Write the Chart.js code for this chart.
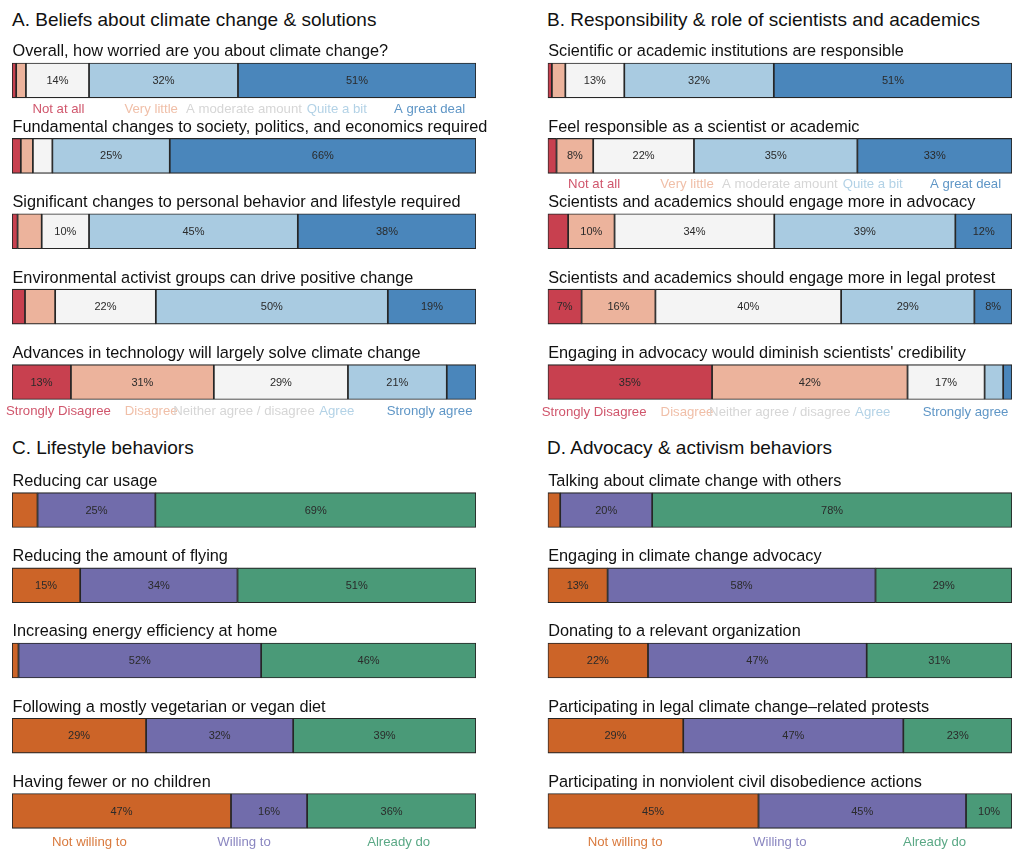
<!DOCTYPE html>
<html><head><meta charset="utf-8">
<script src="https://cdn.jsdelivr.net/npm/chart.js@4"></script>
<style>
body{margin:0;background:#fff;width:1024px;height:855px;position:relative;overflow:hidden;font-family:"Liberation Sans",Arial,Helvetica,sans-serif}
.h{position:absolute;font-size:19px;line-height:22px;color:#111;white-space:nowrap}
canvas{position:absolute}
</style></head><body>
<div class="h" style="left:12px;top:9px">A. Beliefs about climate change &amp; solutions</div>
<div class="h" style="left:547px;top:9px">B. Responsibility &amp; role of scientists and academics</div>
<div class="h" style="left:12px;top:437px">C. Lifestyle behaviors</div>
<div class="h" style="left:547px;top:437px">D. Advocacy &amp; activism behaviors</div>
<canvas id="cA" width="512" height="430" style="left:0;top:0"></canvas>
<canvas id="cB" width="512" height="430" style="left:512px;top:0"></canvas>
<canvas id="cC" width="512" height="425" style="left:0;top:430px"></canvas>
<canvas id="cD" width="512" height="425" style="left:512px;top:430px"></canvas>
<script>
// ---- categories / legend labels ----
const worryLabels = ['Not at all','Very little','A moderate amount','Quite a bit','A great deal'];
const agreeLabels = ['Strongly Disagree','Disagree','Neither agree / disagree','Agree','Strongly agree'];
const willLabels = ['Not willing to','Willing to','Already do'];

// ---- Panel A ----
const questionsA = [
  'Overall, how worried are you about climate change?',
  'Fundamental changes to society, politics, and economics required',
  'Significant changes to personal behavior and lifestyle required',
  'Environmental activist groups can drive positive change',
  'Advances in technology will largely solve climate change'
];
const valuesA = [
  [0.9, 2.1, 13.6, 32.1, 51.3],
  [1.9, 2.6, 4.2, 25.3, 66.0],
  [1.2, 5.2, 10.2, 45.0, 38.4],
  [2.8, 6.5, 21.7, 50.0, 19.0],
  [12.7, 30.8, 28.9, 21.3, 6.3]
];
// ---- Panel B ----
const questionsB = [
  'Scientific or academic institutions are responsible',
  'Feel responsible as a scientist or academic',
  'Scientists and academics should engage more in advocacy',
  'Scientists and academics should engage more in legal protest',
  "Engaging in advocacy would diminish scientists' credibility"
];
const valuesB = [
  [0.9, 2.9, 12.7, 32.2, 51.3],
  [1.9, 7.9, 21.7, 35.2, 33.3],
  [4.4, 10.0, 34.4, 39.0, 12.2],
  [7.3, 15.9, 40.0, 28.7, 8.1],
  [35.4, 42.1, 16.6, 4.0, 1.9]
];
// ---- Panel C ----
const questionsC = [
  'Reducing car usage',
  'Reducing the amount of flying',
  'Increasing energy efficiency at home',
  'Following a mostly vegetarian or vegan diet',
  'Having fewer or no children'
];
const valuesC = [
  [5.5, 25.4, 69.1],
  [14.7, 33.9, 51.4],
  [1.4, 52.3, 46.3],
  [28.9, 31.7, 39.4],
  [47.2, 16.4, 36.4]
];
// ---- Panel D ----
const questionsD = [
  'Talking about climate change with others',
  'Engaging in climate change advocacy',
  'Donating to a relevant organization',
  'Participating in legal climate change\u2013related protests',
  'Participating in nonviolent civil disobedience actions'
];
const valuesD = [
  [2.7, 19.8, 77.5],
  [12.9, 57.7, 29.4],
  [21.6, 47.1, 31.3],
  [29.2, 47.4, 23.4],
  [45.4, 44.7, 9.9]
];

const divColors = ['#c8404f','#ecb39c','#f4f4f4','#a9cbe1','#4a86bb'];
const divText = ['#d0566c','#f0bfa8','#d6d6d6','#b3d2e6','#5f96c6'];
const willColors = ['#cc6428','#716cab','#4a9a78'];
const willText = ['#d97a3e','#8a86c0','#5aa885'];

const FONT = '"Liberation Sans", Arial, Helvetica, sans-serif';

function makePanel(id, questions, values, colors, textColors, legends, pad) {
  const nCat = colors.length;
  const datasets = [];
  for (let k = 0; k < nCat; k++) {
    datasets.push({
      data: values.map(r => r[k]),
      backgroundColor: colors[k],
      borderColor: '#262626',
      borderWidth: 1.2,
      borderSkipped: false,
      barThickness: 35
    });
  }
  const textPlugin = {
    id: 'txt',
    afterDatasetsDraw(chart) {
      const ctx = chart.ctx;
      const ys = chart.scales.y, xs = chart.scales.x;
      ctx.save();
      // question titles
      ctx.font = '16.3px ' + FONT;
      ctx.fillStyle = '#111';
      ctx.textAlign = 'left';
      ctx.textBaseline = 'middle';
      questions.forEach((q, i) => {
        const top = ys.getPixelForValue(i) - 17.5;
        ctx.fillText(q, chart.chartArea.left + 0.5, top - 11);
      });
      // percent labels
      ctx.font = '11px ' + FONT;
      ctx.fillStyle = '#2a2a2a';
      ctx.textAlign = 'center';
      chart.data.datasets.forEach((ds, k) => {
        const meta = chart.getDatasetMeta(k);
        meta.data.forEach((el, i) => {
          const v = ds.data[i];
          if (v >= 7) {
            const cx = (el.x + el.base) / 2;
            ctx.fillText(Math.round(v) + '%', cx, el.y + 0.5);
          }
        });
      });
      // category legends under selected bars
      ctx.font = '13.2px ' + FONT;
      legends.forEach(lg => {
        const bottom = ys.getPixelForValue(lg.after) + 17.5;
        lg.labels.forEach((t, k) => {
          const pos = (100 / lg.labels.length) * (k + 0.5);
          ctx.fillStyle = textColors[k];
          ctx.fillText(t, xs.getPixelForValue(pos), bottom + lg.off);
        });
      });
      ctx.restore();
    }
  };
  return new Chart(document.getElementById(id), {
    type: 'bar',
    data: { labels: questions, datasets },
    options: {
      indexAxis: 'y',
      responsive: false,
      animation: false,
      layout: { padding: pad },
      plugins: { legend: { display: false }, tooltip: { enabled: false }, title: { display: false } },
      scales: {
        x: { stacked: true, min: 0, max: 100, display: false },
        y: { stacked: true, display: false }
      }
    },
    plugins: [textPlugin]
  });
}

makePanel('cA', questionsA, valuesA, divColors, divText,
  [{after: 0, labels: worryLabels, off: 11}, {after: 4, labels: agreeLabels, off: 12}],
  {left: 12, right: 36, top: 42.8, bottom: 10.3});
makePanel('cB', questionsB, valuesB, divColors, divText,
  [{after: 1, labels: worryLabels, off: 11}, {after: 4, labels: agreeLabels, off: 13}],
  {left: 35.7, right: 12, top: 42.8, bottom: 10.3});
makePanel('cC', questionsC, valuesC, willColors, willText,
  [{after: 4, labels: willLabels, off: 14}],
  {left: 12, right: 36, top: 42.4, bottom: 6.4});
makePanel('cD', questionsD, valuesD, willColors, willText,
  [{after: 4, labels: willLabels, off: 14}],
  {left: 35.7, right: 12, top: 42.4, bottom: 6.4});
</script>
</body></html>
